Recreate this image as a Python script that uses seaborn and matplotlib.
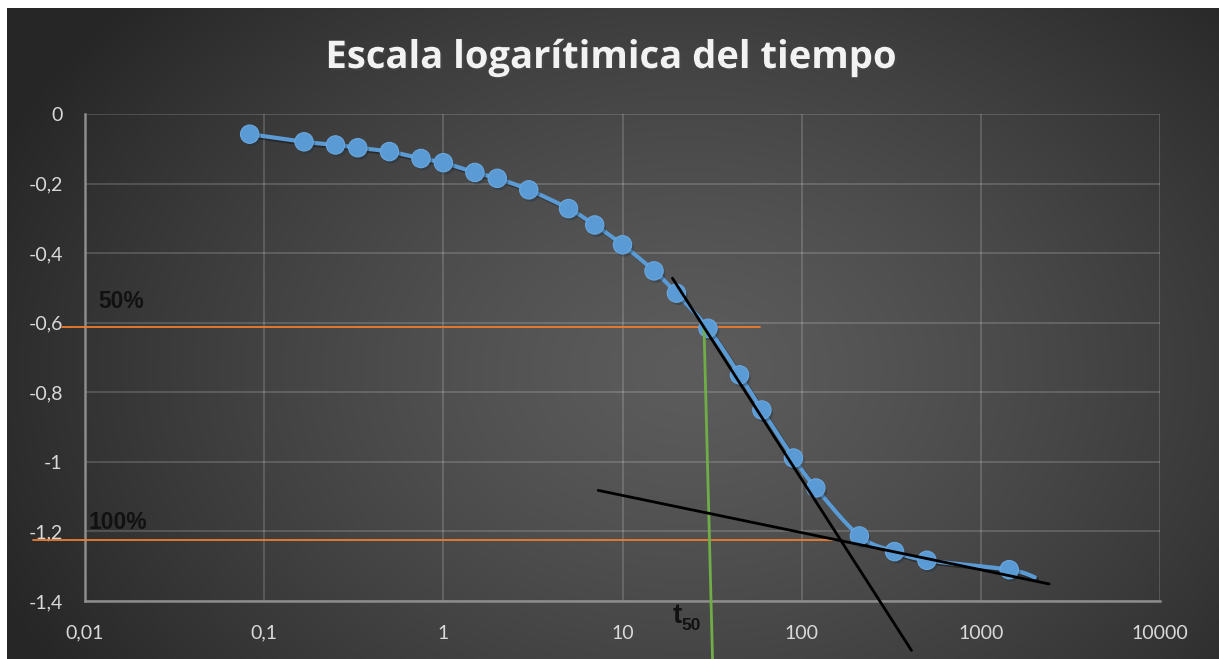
import numpy as np
import pandas as pd
import matplotlib
matplotlib.use("Agg")
import matplotlib.pyplot as plt
import matplotlib.patheffects as pe
from matplotlib.ticker import FixedLocator, FixedFormatter, NullLocator
import seaborn as sns

# ---- data -------------------------------------------------------------
tiempo = [0.083, 0.167, 0.25, 0.333, 0.5, 0.75, 1, 1.5, 2, 3, 5, 7, 10, 15,
          20, 30, 45, 60, 90, 120, 210, 330, 500, 1440]
deformacion = [-0.058, -0.080, -0.089, -0.097, -0.108, -0.128, -0.140, -0.168,
               -0.185, -0.218, -0.272, -0.319, -0.376, -0.451, -0.515, -0.616,
               -0.750, -0.851, -0.989, -1.075, -1.213, -1.258, -1.283, -1.310]
# last reading of the curve (plotted without a marker)
tiempo_final = [2000]
deformacion_final = [-1.332]

# construction lines
tangente_1_x = [19.0, 410.0]
tangente_1_y = [-0.472, -1.542]
tangente_2_x = [7.32, 2405.0]
tangente_2_y = [-1.082, -1.351]
linea_50_x = [0.0074, 58.5]
linea_50_y = [-0.613, -0.613]
linea_100_x = [0.0051, 163.0]
linea_100_y = [-1.224, -1.224]
linea_t50_x = [28.5, 31.8]
linea_t50_y = [-0.613, -1.566]

x_ticks = [0.01, 0.1, 1, 10, 100, 1000, 10000]
x_labels = ["0,01", "0,1", "1", "10", "100", "1000", "10000"]
y_ticks = [0, -0.2, -0.4, -0.6, -0.8, -1.0, -1.2, -1.4]
y_labels = ["0", "-0,2", "-0,4", "-0,6", "-0,8", "-1", "-1,2", "-1,4"]

titulo = "Escala logarítimica del tiempo"

# ---- style ------------------------------------------------------------
sns.set_style("dark")
plt.rcParams["font.family"] = ["Lato", "DejaVu Sans"]

W, H, DPI = 1219, 659, 100
fig = plt.figure(figsize=(W / DPI, H / DPI), dpi=DPI, facecolor="white")

# dark radial background of the chart area
bx0, by_top = 7, 8
bg = fig.add_axes([bx0 / W, 0, 1 - bx0 / W, 1 - by_top / H])
gx, gy = np.meshgrid(np.arange(bx0, W), np.arange(by_top, H))
cx, cy, rx, ry = 690, 370, 760, 560
dist = np.sqrt(((gx - cx) / rx) ** 2 + ((gy - cy) / ry) ** 2)
dist = np.clip(dist, 0, 1) ** 1.3
c0, c1 = 0x5c / 255, 0x26 / 255
shade = c0 + (c1 - c0) * dist
bg.imshow(np.dstack([shade] * 3), aspect="auto", interpolation="bilinear")
bg.set_axis_off()

# plotting area
L, R, B, T = 85, 1160, 601, 114
ax = fig.add_axes([L / W, (H - B) / H, (R - L) / W, (B - T) / H])
ax.set_facecolor("none")
ax.set_xscale("log")
ax.set_xlim(0.01, 10000)
ax.set_ylim(-1.4, 0)

ax.xaxis.set_major_locator(FixedLocator(x_ticks))
ax.xaxis.set_major_formatter(FixedFormatter(x_labels))
ax.xaxis.set_minor_locator(NullLocator())
ax.yaxis.set_major_locator(FixedLocator(y_ticks))
ax.yaxis.set_major_formatter(FixedFormatter(y_labels))
ax.tick_params(axis="both", length=0, labelsize=14, labelcolor="#d9d9d9")
ax.tick_params(axis="x", pad=17)
ax.tick_params(axis="y", pad=16)
ax.grid(True, color="#ffffff", alpha=0.16, linewidth=1.4)
for side in ("top", "right"):
    ax.spines[side].set_visible(False)
for side in ("left", "bottom"):
    ax.spines[side].set_color("#8c8c8c")
    ax.spines[side].set_linewidth(1.8)

# ---- smoothed curve (Catmull-Rom in display-like space) ----------------
lt = np.log10(np.array(tiempo + tiempo_final, dtype=float))
ld = np.array(deformacion + deformacion_final, dtype=float)
px = lt * 179.2
py = ld * 348.0
P = np.column_stack([px, py])
Pext = np.vstack([P[0], P, P[-1]])
curve = []
for i in range(1, len(Pext) - 2):
    p0, p1, p2, p3 = Pext[i - 1], Pext[i], Pext[i + 1], Pext[i + 2]
    s = np.linspace(0, 1, 25)[:, None]
    seg = 0.5 * ((2 * p1) + (-p0 + p2) * s + (2 * p0 - 5 * p1 + 4 * p2 - p3) * s ** 2
                 + (-p0 + 3 * p1 - 3 * p2 + p3) * s ** 3)
    curve.append(seg if i == 1 else seg[1:])
curve = np.vstack(curve)
curva = pd.DataFrame({"t": 10 ** (curve[:, 0] / 179.2), "d": curve[:, 1] / 348.0})

azul = "#5b9bd5"
shadow = [pe.SimpleLineShadow(offset=(1.5, -1.5), shadow_color="black", alpha=0.35), pe.Normal()]

sns.lineplot(data=curva, x="t", y="d", sort=False, estimator=None, color=azul,
             linewidth=3.0, ax=ax, zorder=4, path_effects=shadow)
puntos = pd.DataFrame({"t": tiempo, "d": deformacion})
sc = sns.scatterplot(data=puntos, x="t", y="d", s=175, color=azul, edgecolor="#6aa8e0",
                     linewidth=0.8, ax=ax, zorder=5)
sc.collections[-1].set_path_effects([pe.SimplePatchShadow(offset=(1.5, -2), alpha=0.35), pe.Normal()])

# construction lines
naranja = "#ed7d31"
verde = "#70ad47"
ax.plot(linea_50_x, linea_50_y, color=naranja, lw=1.3, zorder=3, clip_on=False)
ax.plot(linea_100_x, linea_100_y, color=naranja, lw=1.3, zorder=3, clip_on=False)
ax.plot(linea_t50_x, linea_t50_y, color=verde, lw=2.0, zorder=6, clip_on=False)
ax.plot(tangente_1_x, tangente_1_y, color="black", lw=2.0, zorder=7, clip_on=False)
ax.plot(tangente_2_x, tangente_2_y, color="black", lw=2.0, zorder=7, clip_on=False)

etiqueta = dict(family=["Liberation Sans", "DejaVu Sans"], fontweight="bold",
                color="#111111", va="baseline", ha="left")
ax.text(0.0118, -0.557, "50%", fontsize=16.5, **etiqueta)
ax.text(0.0105, -1.193, "100%", fontsize=16.5, **etiqueta)
ax.text(19.0, -1.463, "t", fontsize=20, clip_on=False, **etiqueta)
ax.text(21.3, -1.482, "50", fontsize=12.5, clip_on=False, **etiqueta)

ax.set_xlabel("")
ax.set_ylabel("")

fig.text(612 / W, 1 - 68 / H, titulo, ha="center", va="baseline",
         family=["Open Sans", "DejaVu Sans"], fontweight="bold", fontsize=27.5,
         color="#f2f2f2",
         path_effects=[pe.withSimplePatchShadow(offset=(1.5, -1.5), alpha=0.5)])

fig.savefig("out.png", dpi=DPI, facecolor="white")
